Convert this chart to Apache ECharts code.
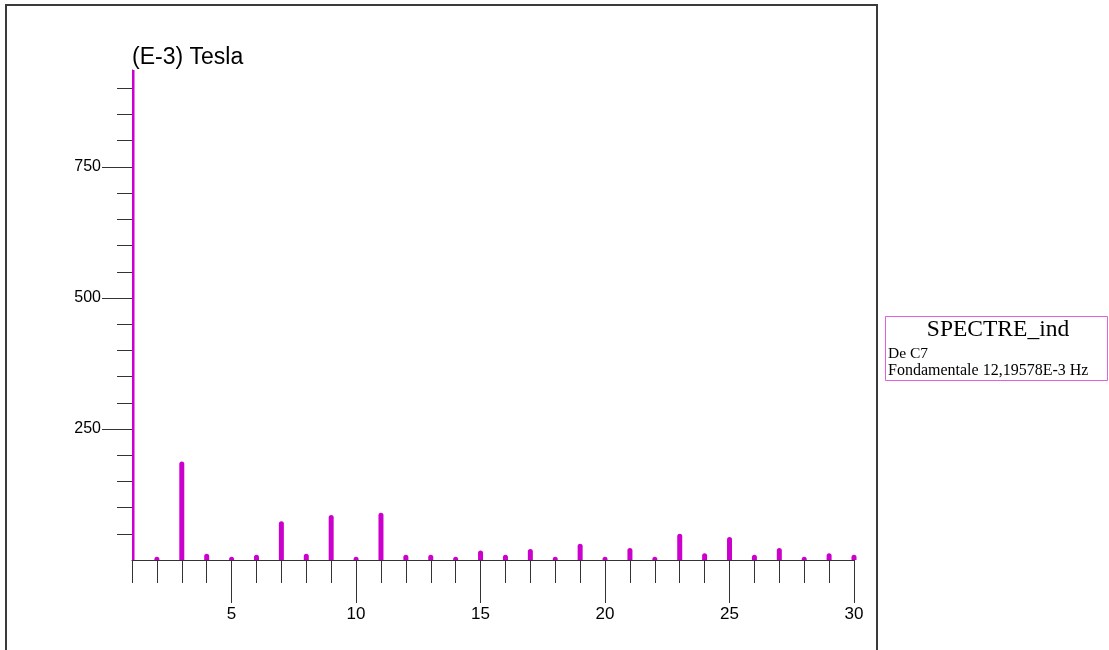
<!DOCTYPE html>
<html>
<head>
<meta charset="utf-8">
<title>SPECTRE_ind</title>
<script src="https://cdn.jsdelivr.net/npm/echarts@6/dist/echarts.min.js"></script>
<style>
  html, body { margin: 0; padding: 0; background: #ffffff; }
  #chart { width: 1109px; height: 650px; }
</style>
</head>
<body>
<div id="chart"></div>
<script>
// Harmonic rank and amplitude (in 1E-3 Tesla) of the induction spectrum
const harmonics = [1, 2, 3, 4, 5, 6, 7, 8, 9, 10, 11, 12, 13, 14, 15,
                   16, 17, 18, 19, 20, 21, 22, 23, 24, 25, 26, 27, 28, 29, 30];
const amplitudes = [935, 6, 188, 12, 6, 10, 74, 12, 86, 6, 90, 10, 10, 6, 18,
                    10, 21, 6, 31, 6, 23, 6, 50, 13, 44, 10, 23, 6, 13, 10];

// Axis graduations
const xMajorTicks = [5, 10, 15, 20, 25, 30];
const xMinorTicks = harmonics.filter(h => xMajorTicks.indexOf(h) < 0);
const yMajorTicks = [250, 500, 750];
const yMinorTicks = [50, 100, 150, 200, 300, 350, 400, 450, 550, 600, 650, 700, 800, 850, 900];
const yMax = 935;

// Legend box texts
const unitLabel = '(E-3) Tesla';
const legendTitle = 'SPECTRE_ind';
const legendLines = ['De C7', 'Fondamentale 12,19578E-3 Hz'];

const axisColor = '#333333';
const barColor = '#cc00cc';
const barWidth = 5;
const sans = 'Liberation Sans, Arial, sans-serif';
const serif = 'Liberation Serif, Times New Roman, serif';

const chart = echarts.init(document.getElementById('chart'), null, { renderer: 'canvas' });

const baseX = {
  type: 'value', min: 1, max: 30, position: 'bottom',
  splitLine: { show: false }
};
const baseY = {
  type: 'value', min: 0, max: yMax, position: 'left',
  splitLine: { show: false }
};

// Spectral line: a thin rounded bar from 0 to the amplitude, cut at the vertical axis
function renderLine(params, api) {
  const h = api.value(0);
  const v = api.value(1);
  const top = api.coord([h, v]);
  const base = api.coord([h, 0]);
  const cs = params.coordSys;
  const rect = echarts.graphic.clipRectByRect(
    { x: top[0] - barWidth / 2, y: top[1], width: barWidth, height: base[1] - top[1] },
    { x: cs.x, y: cs.y, width: cs.width + barWidth, height: cs.height }
  );
  if (!rect) return;
  const full = rect.width >= barWidth - 0.01;
  return {
    type: 'rect',
    shape: {
      x: rect.x, y: rect.y, width: rect.width, height: rect.height,
      r: full ? [barWidth / 2, barWidth / 2, 0, 0] : 0
    },
    style: { fill: barColor }
  };
}

chart.setOption({
  animation: false,
  backgroundColor: '#ffffff',
  grid: {
    left: 132, top: 70, width: 722, height: 490,
    containLabel: false, outerBoundsMode: 'none'
  },
  xAxis: [
    Object.assign({}, baseX, {
      axisLine: { show: true, lineStyle: { color: axisColor, width: 1 } },
      axisTick: { show: true, customValues: xMinorTicks, length: 23, lineStyle: { color: axisColor } },
      axisLabel: { show: false }
    }),
    Object.assign({}, baseX, {
      axisLine: { show: false },
      axisTick: { show: true, customValues: xMajorTicks, length: 43, lineStyle: { color: axisColor } },
      axisLabel: {
        show: true, customValues: xMajorTicks, margin: 46,
        color: '#000', fontSize: 17, fontFamily: sans
      }
    })
  ],
  yAxis: [
    Object.assign({}, baseY, {
      axisLine: { show: true, lineStyle: { color: axisColor, width: 1 } },
      axisTick: { show: true, customValues: yMajorTicks, length: 30, lineStyle: { color: axisColor } },
      axisLabel: {
        show: true, customValues: yMajorTicks, margin: 31,
        color: '#000', fontSize: 16, fontFamily: sans
      }
    }),
    Object.assign({}, baseY, {
      axisLine: { show: false },
      axisTick: { show: true, customValues: yMinorTicks, length: 15, lineStyle: { color: axisColor } },
      axisLabel: { show: false }
    })
  ],
  series: [{
    type: 'custom',
    xAxisIndex: 0,
    yAxisIndex: 0,
    renderItem: renderLine,
    encode: { x: 0, y: 1 },
    data: harmonics.map((h, i) => [h, amplitudes[i]])
  }],
  graphic: [
    {
      type: 'rect', silent: true, z: -1,
      shape: { x: 6, y: 5, width: 871, height: 660 },
      style: { fill: 'none', stroke: '#3a3a3a', lineWidth: 2 }
    },
    {
      type: 'text', silent: true,
      x: 132, y: 58,
      style: {
        text: unitLabel, fill: '#000', font: '23px ' + sans,
        textAlign: 'left', textVerticalAlign: 'middle'
      }
    },
    {
      type: 'rect', silent: true,
      shape: { x: 885.5, y: 316.5, width: 222, height: 64 },
      style: { fill: '#fff', stroke: '#e060e0', lineWidth: 1 }
    },
    {
      type: 'text', silent: true,
      x: 998, y: 330,
      style: {
        text: legendTitle, fill: '#000', font: '23.5px ' + serif,
        textAlign: 'center', textVerticalAlign: 'middle'
      }
    },
    {
      type: 'text', silent: true,
      x: 888, y: 354,
      style: {
        text: legendLines[0], fill: '#000', font: '15.5px ' + serif,
        textAlign: 'left', textVerticalAlign: 'middle'
      }
    },
    {
      type: 'text', silent: true,
      x: 888, y: 371,
      style: {
        text: legendLines[1], fill: '#000', font: '16px ' + serif,
        textAlign: 'left', textVerticalAlign: 'middle'
      }
    }
  ]
});
</script>
</body>
</html>
